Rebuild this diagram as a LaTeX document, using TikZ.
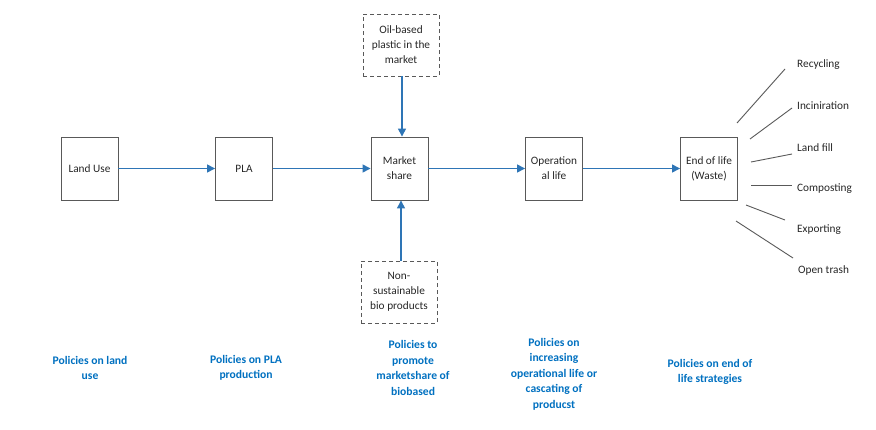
\documentclass[tikz,border=0pt]{standalone}
\usepackage{fontspec}
\setmainfont{Carlito}
\usetikzlibrary{arrows.meta}
\definecolor{flowblue}{HTML}{2E75B6}
\definecolor{polblue}{HTML}{0070C0}
\definecolor{boxgray}{HTML}{595959}
\tikzset{
  x=1pt,y=-1pt,
  stagebox/.style={draw=boxgray,line width=0.9pt,minimum width=57pt,minimum height=63pt,inner sep=1pt,align=center,font=\fontsize{11.3}{15}\selectfont,text=black!85},
  extbox/.style={draw=boxgray,dashed,dash pattern=on 4pt off 3pt,line width=0.9pt,minimum width=76pt,minimum height=62pt,inner sep=1pt,align=center,font=\fontsize{11.3}{15}\selectfont,text=black!85},
  flow/.style={draw=flowblue,line width=1.4pt,-{Triangle[length=8pt,width=8pt]}},
  policy/.style={align=center,text=polblue,font=\bfseries\fontsize{11.6}{15.5}\selectfont},
  outlabel/.style={anchor=west,inner sep=0pt,font=\fontsize{11.3}{14}\selectfont,text=black!85},
  fan/.style={draw=boxgray,line width=0.9pt}
}
\begin{document}
\begin{tikzpicture}
\useasboundingbox (0,0) rectangle (876,429);
\node[stagebox] (land) at (89.5,168.5) {Land Use};
\node[stagebox] (pla) at (244,168.5) {PLA};
\node[stagebox] (market) at (399.5,168.5) {Market\\share};
\node[stagebox] (oper) at (554,168.5) {Operation\\al life};
\node[stagebox] (eol) at (709,168.5) {End of life\\(Waste)};
\node[extbox] (oil) at (401,45) {Oil-based\\plastic in the\\market};
\node[extbox] (nonsust) at (399,292) {Non-\\sustainable\\bio products};
\draw[flow] (land) -- (pla);
\draw[flow] (pla) -- (market);
\draw[flow] (market) -- (oper);
\draw[flow] (oper) -- (eol);
\draw[flow] (oil.south -| 402,0) -- (market.north -| 402,0);
\draw[flow] (nonsust.north -| 401,0) -- (market.south -| 401,0);
% fan-out destinations
\node[outlabel] (rec) at (797,65) {Recycling};
\node[outlabel] (inc) at (797,106) {Inciniration};
\node[outlabel] (lf) at (797,148) {Land fill};
\node[outlabel] (comp) at (797,189) {Composting};
\node[outlabel] (exp) at (797,230) {Exporting};
\node[outlabel] (open) at (798,270) {Open trash};
\coordinate (r1) at (737,123); \coordinate (r2) at (785,69);
\coordinate (i1) at (750,139); \coordinate (i2) at (792,108);
\coordinate (l1) at (751,162); \coordinate (l2) at (792,154);
\coordinate (c1) at (751,185); \coordinate (c2) at (792,185);
\coordinate (e1) at (746,205); \coordinate (e2) at (785,220);
\coordinate (o1) at (736,221); \coordinate (o2) at (793,258);
\draw[fan] (r1) -- (r2);
\draw[fan] (i1) -- (i2);
\draw[fan] (l1) -- (l2);
\draw[fan] (c1) -- (c2);
\draw[fan] (e1) -- (e2);
\draw[fan] (o1) -- (o2);
% policies
\node[policy] (p1) at (90,368) {Policies on land\\use};
\node[policy] (p2) at (246,368) {Policies on PLA\\production};
\node[policy] (p3) at (413,368) {Policies to\\promote\\marketshare of\\biobased};
\node[policy] (p4) at (554,374) {Policies on\\increasing\\operational life or\\cascating of\\producst};
\node[policy] (p5) at (710,372) {Policies on end of\\life strategies};
\end{tikzpicture}
\end{document}
